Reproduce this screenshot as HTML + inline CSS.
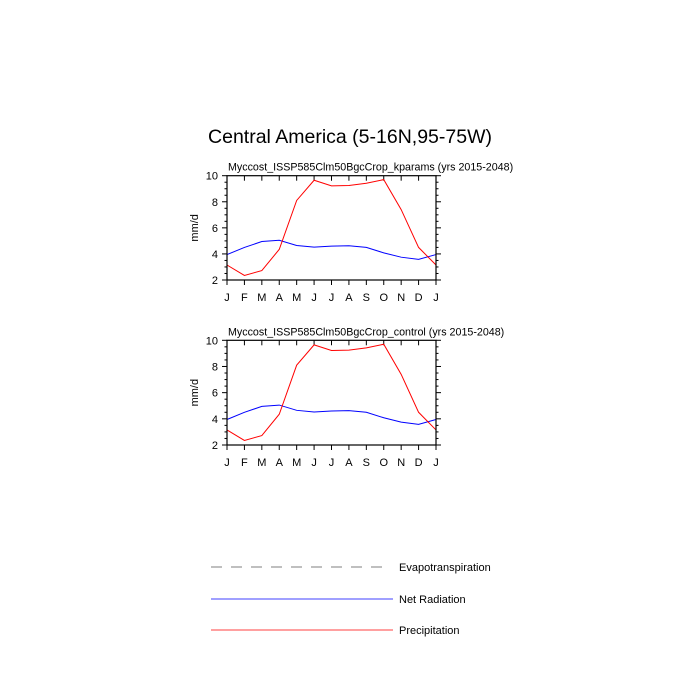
<!DOCTYPE html>
<html><head><style>body{margin:0;background:#fff}svg{display:block}text{font-family:"Liberation Sans",sans-serif}</style></head>
<body>
<svg id="s" width="700" height="700" xmlns="http://www.w3.org/2000/svg">
<text x="350" y="143" font-size="19.5" text-anchor="middle">Central America (5-16N,95-75W)</text>
<line x1="211" y1="567" x2="390" y2="567" stroke="#999" stroke-width="1.2" stroke-dasharray="11,9"/>
<text x="399" y="571" font-size="11">Evapotranspiration</text>
<line x1="211" y1="599" x2="393" y2="599" stroke="blue" stroke-width="0.8"/>
<text x="399" y="603" font-size="11">Net Radiation</text>
<line x1="211" y1="630" x2="393" y2="630" stroke="red" stroke-width="0.8"/>
<text x="399" y="634" font-size="11">Precipitation</text>
</svg>
<script>
var s=document.getElementById('s'),NS='http://www.w3.org/2000/svg';
function el(t,a,txt){var e=document.createElementNS(NS,t);for(var k in a)e.setAttribute(k,a[k]);if(txt)e.textContent=txt;s.appendChild(e);return e;}
var red=[3.15,2.35,2.72,4.35,8.1,9.65,9.22,9.25,9.42,9.7,7.4,4.5,3.15];
var blue=[3.95,4.5,4.95,5.05,4.65,4.52,4.6,4.63,4.5,4.08,3.75,3.58,3.95];
var mon="JFMAMJJASONDJ";
function plot(top,bot,title){
 var L=227,R=436,w=(R-L)/12,h=(bot-top)/8;
 function Y(v){return bot-(v-2)*h;}
 el('text',{x:228,y:top-5,'font-size':10.7},title);
 el('text',{x:198,y:(top+bot)/2,'font-size':11,'text-anchor':'middle',transform:'rotate(-90 198 '+(top+bot)/2+')'},'mm/d');
 for(var i=0;i<=12;i++){var x=L+i*w;
  el('line',{x1:x,y1:bot,x2:x,y2:bot+5,stroke:'#000','stroke-width':1});
  el('line',{x1:x,y1:top,x2:x,y2:top+5,stroke:'#000','stroke-width':1});
  el('text',{x:x,y:bot+21,'font-size':11,'text-anchor':'middle'},mon[i]);}
 for(var v=2;v<=10;v+=0.5){var y=Y(v),m=(v%2==0)?5:2.5;
  el('line',{x1:L-m,y1:y,x2:L,y2:y,stroke:'#000','stroke-width':1});
  el('line',{x1:R,y1:y,x2:R+m,y2:y,stroke:'#000','stroke-width':1});
  if(v%2==0)el('text',{x:L-9,y:y+4,'font-size':11,'text-anchor':'end'},v);}
 function line(d,c){el('polyline',{points:d.map(function(v,i){return (L+i*w)+','+Y(v)}).join(' '),fill:'none',stroke:c,'stroke-width':1});}
 line(blue,'blue');line(red,'red');
 el('rect',{x:L,y:top,width:R-L,height:bot-top,fill:'none',stroke:'#000','stroke-width':1.2});
}
plot(175.7,280,'Myccost_ISSP585Clm50BgcCrop_kparams (yrs 2015-2048)');
plot(340.3,445,'Myccost_ISSP585Clm50BgcCrop_control (yrs 2015-2048)');
</script>
</body></html>
